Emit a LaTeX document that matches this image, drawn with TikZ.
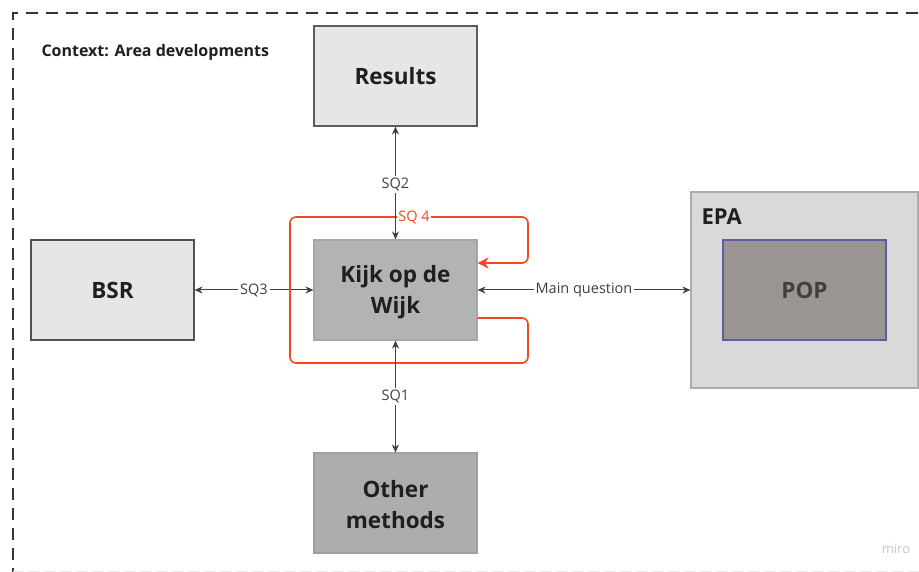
\documentclass[tikz,border=0pt]{standalone}
\usepackage{fontspec}
\setmainfont{Open Sans}
\usetikzlibrary{arrows.meta,calc}
\definecolor{ink}{HTML}{404040}
\definecolor{frame}{HTML}{333333}
\definecolor{lightfill}{HTML}{E6E6E6}
\definecolor{midfill}{HTML}{B3B3B3}
\definecolor{darkfill}{HTML}{ADADAD}
\definecolor{epafill}{HTML}{D9D9D9}
\definecolor{popfill}{HTML}{9A9591}
\definecolor{popedge}{HTML}{5B5EA6}
\definecolor{loopred}{HTML}{F24822}
\tikzset{
  box/.style={draw=#1, line width=1.1pt, minimum width=163pt, minimum height=100pt,
    align=center, font=\fontsize{22.5}{31}\selectfont\bfseries, text=black!88, inner sep=0pt},
  link/.style={draw=ink, line width=1pt, {Stealth[length=8pt,width=7pt]}-{Stealth[length=8pt,width=7pt]}},
  tag/.style={fill=white, text=ink, font=\fontsize{14.5}{16}\selectfont, inner sep=2pt},
  redloop/.style={draw=loopred, line width=1.6pt, rounded corners=6pt,
    -{Stealth[length=11pt,width=11pt]}},
}
\begin{document}
\begin{tikzpicture}[x=1pt,y=-1pt]
\useasboundingbox (0,0) rectangle (919,572);
% outer context frame (continues beyond the visible area)
\draw[frame, line width=2.6pt, dash pattern=on 12pt off 8pt] (13,580) -- (13,13) -- (930,13);
\draw[gray!18, line width=0.8pt, dash pattern=on 10pt off 6pt] (13,571) -- (919,571);
\node[anchor=west, font=\fontsize{16}{18}\selectfont\bfseries, text=black!88] (ctx) at (38,52) {Context: Area developments};

% boxes
\node[box=frame!80, fill=lightfill] (results) at (395.5,76) {Results};
\node[box=gray!70, fill=midfill] (kijk) at (395.5,290) {};
\node[font=\fontsize{22.5}{31}\selectfont\bfseries, text=black!88, align=center] (kijktext) at (395.5,292) {Kijk op de\\Wijk};
\node[box=gray!75, fill=darkfill] (other) at (395.5,503) {};
\node[font=\fontsize{22.5}{31}\selectfont\bfseries, text=black!88, align=center] (othertext) at (395.5,505) {Other\\methods};
\node[box=frame!85, fill=lightfill] (bsr) at (112.5,290) {BSR};
\node[draw=gray!65, line width=1.1pt, fill=epafill, minimum width=227pt, minimum height=196pt] (epa) at (804.5,290) {};
\node[anchor=west, font=\fontsize{22}{24}\selectfont\bfseries, text=black!88] (epalabel) at (698,217) {EPA};
\node[box=popedge, fill=popfill, text=black!75] (pop) at (804.5,290) {POP};

% horizontal links
\draw[link] (bsr.east) -- node[tag] (sq3) {SQ3} (kijk.west);
\draw[link] (kijk.east) -- node[tag, pos=0.5] (mq) {Main question} (epa.west);

% SQ 4 feedback loop around the central box
\coordinate (l0) at ([yshift=-28pt]kijk.east);
\coordinate (l1) at (528,318);
\coordinate (l2) at (528,363);
\coordinate (l3) at (290,363);
\coordinate (l4) at (290,217);
\coordinate (l5) at (528,217);
\coordinate (l6) at (528,263);
\coordinate (l7) at ([yshift=27pt]kijk.east);
\draw[redloop] (l0) -- (l1) -- (l2) -- (l3) -- (l4) -- (l5) -- (l6) -- (l7);
\node[fill=white, text=loopred, font=\fontsize{14.5}{16}\selectfont, inner sep=1.5pt] (sq4) at (414,217) {SQ 4};

% vertical links
\draw[link] (kijk.north) -- node[tag, pos=0.49] (sq2) {SQ2} (results.south);
\draw[link] (kijk.south) -- node[tag, pos=0.5] (sq1) {SQ1} (other.north);

% watermark
\node[text=gray!45, font=\fontsize{13}{14}\selectfont] (miro) at (896,549) {miro};
\end{tikzpicture}
\end{document}
